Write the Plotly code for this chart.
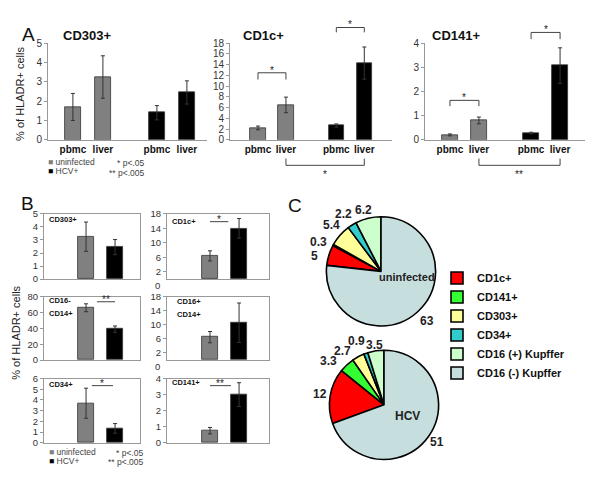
import plotly.graph_objects as go

# the page body has an 8px margin, so the figure is a bit smaller than the window
OFF = 8
W, H = 600 - OFF, 483 - OFF
FONT = "Arial, Liberation Sans, sans-serif"

# ---------------- data ----------------
group_names = ["uninfected", "HCV+"]
group_colors = ["#808080", "#000000"]

# panel A: blood (pbmc) vs liver, uninfected vs HCV+
a_ticks = ["pbmc", "liver", "pbmc", "liver"]
a_group = [0, 0, 1, 1]
a_titles = ["CD303+", "CD1c+", "CD141+"]
a_cd303 = [1.7, 3.25, 1.4, 2.45]
a_cd303_err = [0.7, 1.1, 0.37, 0.6]
a_cd1c = [2.2, 6.5, 2.65, 14.3]
a_cd1c_err = [0.35, 1.45, 0.3, 3.0]
a_cd141 = [0.2, 0.8, 0.28, 3.07]
a_cd141_err = [0.04, 0.14, 0.03, 0.74]

# panel B: liver only, uninfected vs HCV+
b_titles = [["CD303+"], ["CD1c+"], ["CD16-", "CD14+"], ["CD16+", "CD14+"], ["CD34+"], ["CD141+"]]
b_cd303 = [3.25, 2.45]
b_cd303_err = [1.12, 0.58]
b_cd1c = [6.4, 14.0]
b_cd1c_err = [1.4, 2.7]
b_cd16n_cd14 = [66, 39]
b_cd16n_cd14_err = [5, 4]
b_cd16p_cd14 = [6.5, 10.6]
b_cd16p_cd14_err = [1.6, 5.6]
b_cd34 = [3.7, 1.35]
b_cd34_err = [1.4, 0.45]
b_cd141 = [0.76, 3.0]
b_cd141_err = [0.2, 0.74]

# panel C: composition of liver APC (%)
pie_labels = ["CD1c+", "CD141+", "CD303+", "CD34+", "CD16 (+) Kupffer", "CD16 (-) Kupffer"]
pie_colors = ["#ff0000", "#33ff33", "#ffff99", "#33cccc", "#ccffcc", "#c6dede"]
pie_uninf = [5, 0.3, 5.4, 2.2, 6.2, 63]
pie_hcv = [12, 3.3, 2.7, 0.9, 3.5, 51]


def px(x):
    return (x - OFF) / W


def py(y):
    return 1 - (y - OFF) / H


fig = go.Figure()
shapes = []
annotations = []


def text(x, y, s, size=10, bold=False, color="#222", xanchor="center", yanchor="middle", angle=0):
    annotations.append(dict(
        x=px(x), y=py(y), xref="paper", yref="paper", text=s, showarrow=False,
        xanchor=xanchor, yanchor=yanchor, textangle=angle,
        font=dict(family=FONT, size=size, color=color, weight="bold" if bold else "normal"),
    ))


def add_panel(n, pos, vals, errs, groups, xdom, ydom, xrng, yrng, ytickvals,
              boxed=False, ticktext=None, bar_w=0.55, tick_size=10):
    xa = "x" if n == 1 else f"x{n}"
    ya = "y" if n == 1 else f"y{n}"
    fig.add_trace(go.Bar(
        x=pos, y=vals, width=bar_w,
        marker=dict(color=[group_colors[g] for g in groups], line=dict(color="#333", width=0.8)),
        error_y=dict(type="data", array=errs, color="#333", thickness=1, width=2),
        xaxis=xa, yaxis=ya, showlegend=False, hoverinfo="skip",
    ))
    key = "" if n == 1 else str(n)
    fig.layout[f"xaxis{key}"] = dict(
        domain=[px(xdom[0]), px(xdom[1])], range=xrng, anchor=ya,
        showline=True, linecolor="#999", linewidth=1, mirror=boxed,
        showgrid=False, zeroline=False, ticks="",
        tickvals=pos if ticktext else [], ticktext=ticktext,
        tickfont=dict(family=FONT, size=10, color="#111", weight="bold"),
        fixedrange=True,
    )
    fig.layout[f"yaxis{key}"] = dict(
        domain=[py(ydom[1]), py(ydom[0])], range=yrng, anchor=xa,
        showline=True, linecolor="#999", linewidth=1, mirror=boxed,
        showgrid=False, zeroline=False, ticks="outside", ticklen=3, tickcolor="#999",
        tickvals=ytickvals, tickfont=dict(family=FONT, size=tick_size, color="#333"),
        fixedrange=True,
    )
    if 0 not in ytickvals:
        # the zero label sits just below-left of the axis corner
        annotations.append(dict(
            x=0, y=0, xref=f"{xa} domain", yref=f"{ya} domain", text="0", showarrow=False,
            xanchor="right", yanchor="middle", xshift=-5, yshift=-6,
            font=dict(family=FONT, size=tick_size, color="#333"),
        ))


def bracket(n, x0, x1, y, leg, star, star_y):
    xr, yr = f"x{n}", f"y{n} domain"
    line = dict(color="#444", width=1)
    shapes.append(dict(type="line", xref=xr, yref=yr, x0=x0, x1=x1, y0=y, y1=y, line=line))
    if leg:
        shapes.append(dict(type="line", xref=xr, yref=yr, x0=x0, x1=x0, y0=y, y1=y + leg, line=line))
        shapes.append(dict(type="line", xref=xr, yref=yr, x0=x1, x1=x1, y0=y, y1=y + leg, line=line))
    annotations.append(dict(
        x=(x0 + x1) / 2, y=star_y, xref=xr, yref=yr, text=star, showarrow=False,
        xanchor="center", yanchor="middle", font=dict(family=FONT, size=10, color="#222"),
    ))


# ---------------- panel A ----------------
a_pos = [0, 1, 2.8, 3.8]
a_top, a_bot = 38, 137
add_panel(1, a_pos, a_cd303, a_cd303_err, a_group, (48, 207), (a_top, a_bot),
          [-0.83, 4.47], [0, 5], [0, 1, 2, 3, 4, 5], ticktext=a_ticks)
add_panel(2, a_pos, a_cd1c, a_cd1c_err, a_group, (230, 392), (a_top, a_bot),
          [-1.0, 4.79], [0, 18], list(range(0, 19, 2)), ticktext=a_ticks)
add_panel(3, a_pos, a_cd141, a_cd141_err, a_group, (425, 585), (a_top, a_bot),
          [-0.86, 4.66], [0, 4], [0, 1, 2, 3, 4], ticktext=a_ticks)

for x, t in zip([87, 263, 456], a_titles):
    text(x, 30, t, size=13, bold=True, color="#111")

bracket(2, a_pos[0], a_pos[1], 0.694, -0.07, "*", 0.72)
bracket(2, a_pos[2], a_pos[3], 1.163, -0.05, "*", 1.19)
bracket(2, a_pos[1], a_pos[3], -0.265, 0.07, "*", -0.36)
bracket(3, a_pos[0], a_pos[1], 0.408, -0.06, "*", 0.435)
bracket(3, a_pos[2], a_pos[3], 1.112, -0.07, "*", 1.14)
bracket(3, a_pos[1], a_pos[3], -0.265, 0.07, "**", -0.36)

text(28, 29, "A", size=19, color="#111")
text(20, 90, "% of HLADR+ cells", size=11, color="#222", angle=-90)


def group_key(x, y1, y2, size):
    for y, name, col in zip([y1, y2], group_names, group_colors):
        text(x, y, f"<span style='color:{col}'>■</span> {name}", size=size, color="#444", xanchor="left")


group_key(46, 160, 169, 8.5)
text(146, 161, "* p<.05", size=8.5, color="#444", xanchor="right")
text(146, 171, "** p<.005", size=8.5, color="#444", xanchor="right")

# ---------------- panel B ----------------
b_pos = [0, 1]
b_group = [0, 1]
rows = [(213, 280), (298, 363), (382, 448)]
left, right = (44, 140), (167, 269)
lrng, rrng = [-1.45, 1.86], [-1.48, 2.03]
odd_ticks = [2, 6, 10, 14, 18]
add_panel(4, b_pos, b_cd303, b_cd303_err, b_group, left, rows[0], lrng, [0, 5], [0, 1, 2, 3, 4, 5], boxed=True, tick_size=9.5)
add_panel(5, b_pos, b_cd1c, b_cd1c_err, b_group, right, rows[0], rrng, [0, 18], odd_ticks, boxed=True, tick_size=9.5)
add_panel(6, b_pos, b_cd16n_cd14, b_cd16n_cd14_err, b_group, left, rows[1], lrng, [0, 80], [0, 20, 40, 60, 80], boxed=True, tick_size=9.5)
add_panel(7, b_pos, b_cd16p_cd14, b_cd16p_cd14_err, b_group, right, rows[1], rrng, [0, 18], odd_ticks, boxed=True, tick_size=9.5)
add_panel(8, b_pos, b_cd34, b_cd34_err, b_group, left, rows[2], lrng, [0, 6], [0, 1, 2, 3, 4, 5, 6], boxed=True, tick_size=9.5)
add_panel(9, b_pos, b_cd141, b_cd141_err, b_group, right, rows[2], rrng, [0, 4], [0, 1, 2, 3, 4], boxed=True, tick_size=9.5)

bracket(5, 0.0, 0.63, 0.88, 0, "*", 0.91)
bracket(6, 0.38, 1.0, 0.92, 0, "**", 0.95)
bracket(8, 0.2, 0.93, 0.89, 0, "*", 0.92)
bracket(9, 0.0, 0.72, 0.89, 0, "**", 0.92)

label_xy = [(47, 219), (170, 221), (47, 302), (175, 303), (47, 388), (170, 386)]
for (x, y), lines in zip(label_xy, b_titles):
    for k, ln in enumerate(lines):
        text(x, y + 13 * k, ln, size=7.5, bold=True, color="#111", xanchor="left")

text(27, 202, "B", size=19, color="#111")
text(16, 335, "% of HLADR+ cells", size=11, color="#222", angle=-90)
group_key(47, 457, 467, 8.5)
text(145, 458, "* p<.05", size=8.5, color="#444", xanchor="right")
text(145, 468, "** p<.005", size=8.5, color="#444", xanchor="right")

# ---------------- panel C ----------------
for vals, (cx, cy), show in [(pie_uninf, (381, 272), True), (pie_hcv, (384, 409), False)]:
    r = 56
    fig.add_trace(go.Pie(
        labels=pie_labels, values=vals, sort=False, direction="clockwise",
        rotation=360 * vals[-1] / sum(vals),
        marker=dict(colors=pie_colors, line=dict(color="#000", width=1.6)),
        textinfo="none", hoverinfo="skip", showlegend=show,
        domain=dict(x=[px(cx - r), px(cx + r)], y=[py(cy + r), py(cy - r)]),
    ))

text(295, 204, "C", size=19, color="#111")
for (x, y), v in zip([(314, 256), (318, 242), (331, 224), (343, 213), (363, 209), (427, 323)],
                     pie_uninf):
    text(x, y, f"{v:g}", size=12, bold=True)
text(407, 278, "uninfected", size=11, bold=True)
for (x, y), v in zip([(320, 398), (328, 364), (342, 354), (357, 343), (374, 348), (437, 447)],
                     pie_hcv):
    text(x, y, f"{v:g}", size=12, bold=True)
text(407, 420, "HCV", size=12, bold=True)

fig.update_layout(
    width=W, height=H, margin=dict(l=0, r=0, t=0, b=0),
    paper_bgcolor="white", plot_bgcolor="white",
    shapes=shapes, annotations=annotations, bargap=0,
    legend=dict(x=px(437), y=py(264), xanchor="left", yanchor="top",
                bgcolor="rgba(0,0,0,0)", itemclick=False, itemdoubleclick=False,
                font=dict(family=FONT, size=11, color="#111", weight="bold")),
)

fig.write_html("out.html")
